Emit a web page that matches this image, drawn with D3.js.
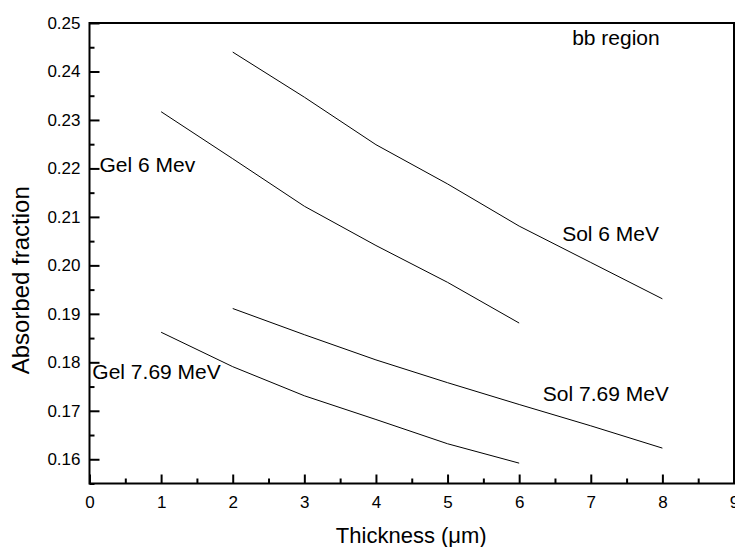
<!DOCTYPE html>
<html>
<head>
<meta charset="utf-8">
<script src="https://cdn.jsdelivr.net/npm/d3@7"></script>
<style>
  body { margin: 0; background: #fff; }
  text { font-family: "Liberation Sans", Arial, sans-serif; fill: #000; }
</style>
</head>
<body>
<svg id="chart" width="735" height="547"></svg>
<script>
// values
const solX = [2, 3, 4, 5, 6, 7, 8];
const gelX = [1, 2, 3, 4, 5, 6];
const sol6 = [0.2440, 0.2347, 0.2249, 0.2168, 0.2081, 0.2006, 0.1931];
const gel6 = [0.2317, 0.2220, 0.2122, 0.2041, 0.1965, 0.1881];
const sol769 = [0.1911, 0.1857, 0.1805, 0.1758, 0.1713, 0.1669, 0.1623];
const gel769 = [0.1862, 0.1791, 0.1731, 0.1682, 0.1632, 0.1592];
const xTicks = [0, 1, 2, 3, 4, 5, 6, 7, 8, 9];
const yTicks = [0.16, 0.17, 0.18, 0.19, 0.20, 0.21, 0.22, 0.23, 0.24, 0.25];

const labels = [
  {text: "bb region", x: 6.74, y: 0.2455},
  {text: "Gel 6 Mev", x: 0.14, y: 0.2192},
  {text: "Gel 7.69 MeV", x: 0.04, y: 0.1765},
  {text: "Sol 6 MeV", x: 6.6, y: 0.2051},
  {text: "Sol 7.69 MeV", x: 6.33, y: 0.1721},
];

const svg = d3.select("#chart");
const x = d3.scaleLinear().domain([0, 9]).range([89.5, 734]);
const y = d3.scaleLinear().domain([0.155, 0.25]).range([483.5, 23]);

// frame
svg.append("rect")
  .attr("x", x(0)).attr("y", y(0.25))
  .attr("width", x(9) - x(0)).attr("height", y(0.155) - y(0.25))
  .attr("fill", "none").attr("stroke", "#000").attr("stroke-width", 2);

// x axis
const gx = svg.append("g").attr("transform", `translate(0,${y(0.155)})`);
gx.call(d3.axisBottom(x).tickValues(xTicks).tickFormat(d3.format("d"))
  .tickSizeInner(-9).tickSizeOuter(0).tickPadding(12));
gx.append("g").call(d3.axisBottom(x).tickValues(d3.range(0.5, 9, 1))
  .tickFormat("").tickSizeInner(-5).tickSizeOuter(0));

// y axis
const gy = svg.append("g").attr("transform", `translate(${x(0)},0)`);
gy.call(d3.axisLeft(y).tickValues(yTicks).tickFormat(d3.format(".2f"))
  .tickSizeInner(-10).tickSizeOuter(0).tickPadding(9));
gy.append("g").call(d3.axisLeft(y).tickValues(d3.range(0.155, 0.25, 0.01))
  .tickFormat("").tickSizeInner(-5).tickSizeOuter(0));

svg.selectAll(".domain").remove();
svg.selectAll(".tick line").attr("stroke", "#000").attr("stroke-width", 2);
svg.selectAll(".tick text").attr("font-size", 17)
  .attr("font-family", "Liberation Sans, Arial, sans-serif");
gx.selectAll(".tick text").attr("dy", "0.71em");

// lines
const line = d3.line().x(d => x(d[0])).y(d => y(d[1]));
const series = [
  d3.zip(solX, sol6),
  d3.zip(gelX, gel6),
  d3.zip(solX, sol769),
  d3.zip(gelX, gel769),
];
svg.append("g").selectAll("path").data(series).join("path")
  .attr("d", line)
  .attr("fill", "none").attr("stroke", "#000").attr("stroke-width", 1);

// labels
svg.append("g").selectAll("text").data(labels).join("text")
  .attr("x", d => x(d.x)).attr("y", d => y(d.y))
  .attr("font-size", 21)
  .text(d => d.text);

// axis titles
svg.append("text")
  .attr("x", (x(0) + x(9)) / 2 - 0.5).attr("y", 543)
  .attr("text-anchor", "middle").attr("font-size", 22)
  .text("Thickness (\u03bcm)");

svg.append("text")
  .attr("transform", `translate(29,${(y(0.155) + y(0.25)) / 2 + 27}) rotate(-90)`)
  .attr("text-anchor", "middle").attr("font-size", 24)
  .text("Absorbed fraction");
</script>
</body>
</html>
